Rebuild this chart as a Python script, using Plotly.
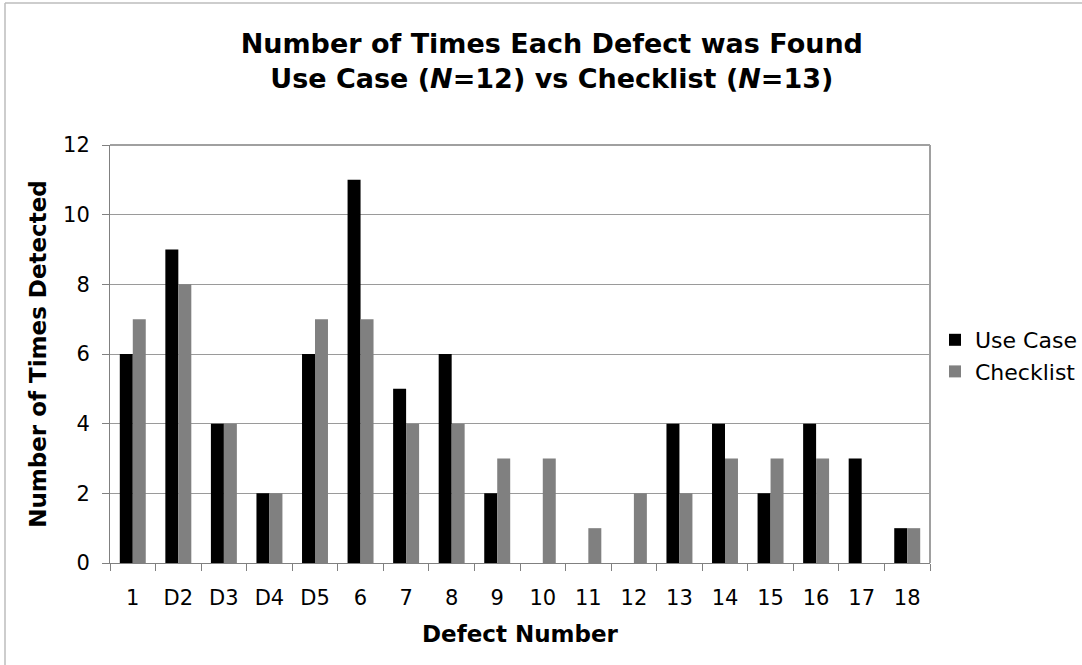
import plotly.graph_objects as go

categories = ["1", "D2", "D3", "D4", "D5", "6", "7", "8", "9", "10", "11", "12",
              "13", "14", "15", "16", "17", "18"]
use_case = [6, 9, 4, 2, 6, 11, 5, 6, 2, 0, 0, 0, 4, 4, 2, 4, 3, 1]
checklist = [7, 8, 4, 2, 7, 7, 4, 4, 3, 3, 1, 2, 2, 3, 3, 3, 0, 1]
y_ticks = [0, 2, 4, 6, 8, 10, 12]

W, H = 1082, 665
L, R, T, B = 110, 152, 145, 102
pw, ph = W - L - R, H - T - B
FONT = "DejaVu Sans"

fig = go.Figure()
fig.add_bar(x=categories, y=use_case, name="Use Case", marker=dict(color="#000000", line=dict(width=0)))
fig.add_bar(x=categories, y=checklist, name="Checklist", marker=dict(color="#808080", line=dict(width=0)))

def px_x(p):
    return (p - L) / pw

def px_y(p):
    return (H - B - p) / ph

fig.update_layout(
    width=W, height=H,
    margin=dict(l=L, r=R, t=T, b=B, autoexpand=False),
    paper_bgcolor="white", plot_bgcolor="white",
    barmode="group", bargap=0.43, bargroupgap=0,
    font=dict(family=FONT, color="black"),
    title=dict(
        text="<b>Number of Times Each Defect was Found<br>Use Case (<i>N</i>=12) vs Checklist (<i>N</i>=13)</b>",
        x=0.51, xref="container", xanchor="center",
        y=1 - 53 / H, yref="container", yanchor="middle",
        font=dict(family=FONT, size=27, color="black"),
    ),
    legend=dict(
        xref="container", yref="container",
        x=935 / W, y=1 - 356 / H, xanchor="left", yanchor="middle",
        font=dict(family=FONT, size=22, color="black"),
        bgcolor="rgba(0,0,0,0)", tracegroupgap=0, itemwidth=30,
    ),
    showlegend=True,
)
fig.update_xaxes(
    type="category", tickson="boundaries",
    showline=True, linecolor="#808080", linewidth=1, mirror=False,
    ticks="outside", ticklen=7, tickcolor="#808080",
    showgrid=False, ticklabelstandoff=16,
    tickfont=dict(family=FONT, size=21, color="black"),
    title=dict(text="<b>Defect Number</b>", font=dict(family=FONT, size=23, color="black"), standoff=16),
)
fig.update_yaxes(
    range=[0, 12], tickvals=y_ticks,
    showline=True, linecolor="#808080", linewidth=1,
    ticks="outside", ticklen=7, tickcolor="#808080",
    showgrid=True, gridcolor="#9a9a9a", gridwidth=1,
    zeroline=False, ticklabelstandoff=8,
    tickfont=dict(family=FONT, size=21, color="black"),
    title=dict(text="<b>Number of Times Detected</b>", font=dict(family=FONT, size=23, color="black"), standoff=10),
)
# plot area border (top + right)
fig.add_shape(type="line", xref="paper", yref="paper", x0=0, x1=1, y0=1, y1=1,
              line=dict(color="#a0a0a0", width=2), layer="above")
fig.add_shape(type="line", xref="paper", yref="paper", x0=1, x1=1, y0=0, y1=1,
              line=dict(color="#a0a0a0", width=2), layer="above")
# outer chart border (left + top)
fig.add_shape(type="line", xref="paper", yref="paper", x0=px_x(5), x1=px_x(W + 5), y0=px_y(3), y1=px_y(3),
              line=dict(color="#bdbdbd", width=1.5))
fig.add_shape(type="line", xref="paper", yref="paper", x0=px_x(5), x1=px_x(5), y0=px_y(3), y1=px_y(H + 5),
              line=dict(color="#bdbdbd", width=1.5))

fig.write_html("out.html")
